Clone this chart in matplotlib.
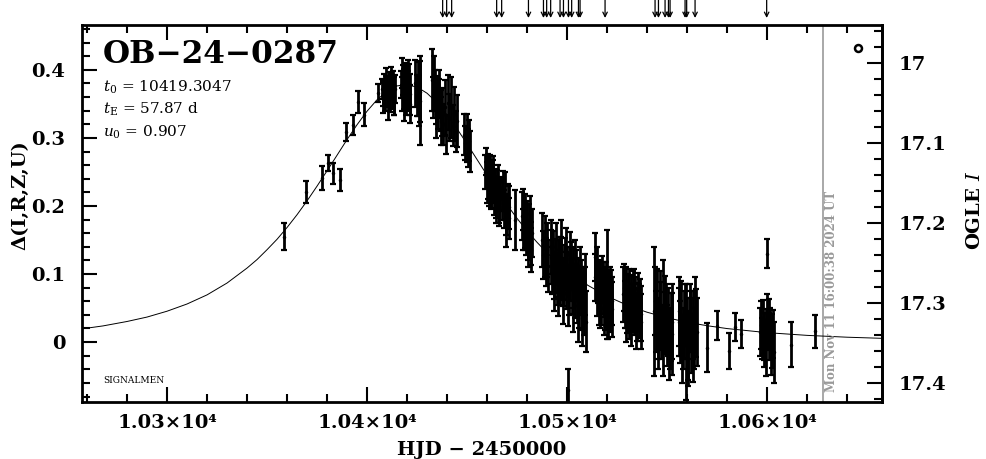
import numpy as np
import matplotlib.pyplot as plt
from matplotlib.ticker import FixedLocator, FixedFormatter, MultipleLocator

plt.rcParams['font.family'] = ['DejaVu Serif']
plt.rcParams['mathtext.fontset'] = 'dejavuserif'

# light curve data (HJD-2450000, delta mag, error)
hjd = [
    10358.5, 10369.5, 10377.4, 10380.4, 10383.2, 10386.4, 10389.5, 10393.2, 10395.5, 10398.5, 10405.4,
    10407.5, 10408.0, 10408.6, 10409.1, 10409.7, 10410.2, 10410.8, 10411.3, 10411.9, 10412.4, 10413.0, 10413.5, 10414.0,
    10417.2, 10417.7, 10418.2, 10418.7, 10419.2, 10419.7, 10420.2, 10420.7, 10421.2, 10421.7,
    10424.2, 10424.8, 10425.4, 10426.0, 10426.3, 10426.6,
    10432.6, 10433.2, 10433.8, 10434.4, 10435.0, 10435.6, 10436.2, 10436.8,
    10437.5, 10438.2, 10438.9, 10439.6,
    10440.5, 10441.2, 10442.0, 10442.8, 10443.6, 10444.4, 10445.0,
    10448.6, 10449.2, 10449.8, 10450.4, 10451.0, 10451.5,
    10459.2, 10459.8, 10460.4, 10461.0, 10461.6, 10462.2, 10462.8, 10463.4, 10464.0, 10464.6, 10465.2, 10465.8, 10466.4,
    10467.6, 10468.3, 10469.0, 10469.7, 10470.4, 10471.1, 10474.2,
    10477.6, 10478.2, 10478.8, 10479.4, 10480.0, 10480.6, 10481.2, 10481.8, 10482.4,
    10487.6, 10488.2, 10488.8, 10489.4, 10490.0, 10490.6,
    10491.8, 10492.4, 10493.0, 10493.6, 10494.2, 10494.8, 10495.4, 10496.0, 10496.6, 10497.2,
    10497.8, 10498.4, 10499.0, 10499.6, 10500.2, 10500.8, 10501.4, 10502.0, 10502.6, 10503.2,
    10503.8, 10504.4, 10505.0, 10505.6, 10506.2, 10506.8, 10507.4, 10508.0, 10508.6, 10509.2, 10500.3,
    10514.0, 10514.2, 10514.8, 10515.4, 10516.0, 10516.6, 10517.2, 10517.8, 10518.4, 10519.0, 10519.6, 10519.8,
    10520.2, 10520.8, 10521.4, 10522.0, 10522.6,
    10528.2, 10528.8, 10529.4, 10530.0, 10530.6, 10531.2, 10531.8, 10532.4, 10533.0, 10533.6, 10534.2, 10534.8,
    10535.4, 10536.0, 10536.6, 10537.2,
    10543.6, 10544.3, 10545.0, 10545.7, 10546.4, 10547.1, 10547.8, 10548.5, 10549.2, 10549.9, 10550.6, 10551.3,
    10552.0, 10552.6,
    10555.8, 10556.5, 10557.2, 10557.9, 10558.6, 10559.3, 10560.0, 10560.7, 10561.4, 10562.1, 10562.8, 10563.5,
    10564.2, 10564.8,
    10570.0, 10575.0, 10581.0, 10584.0, 10587.0,
    10596.6, 10597.3, 10598.0, 10598.7, 10599.4, 10600.1, 10600.8, 10601.5, 10602.2, 10602.9, 10603.6, 10600.0,
    10612.0, 10624.0,
]
delta = [
    0.155, 0.221, 0.241, 0.263, 0.248, 0.238, 0.309, 0.319, 0.353, 0.334, 0.366,
    0.372, 0.365, 0.378, 0.360, 0.374, 0.368, 0.381, 0.358, 0.376, 0.366, 0.383, 0.355, 0.372,
    0.378, 0.365, 0.385, 0.372, 0.390, 0.360, 0.381, 0.370, 0.388, 0.364,
    0.380, 0.362, 0.372, 0.355, 0.355, 0.368,
    0.385, 0.360, 0.372, 0.350, 0.366, 0.345, 0.358, 0.340,
    0.338, 0.320, 0.345, 0.305,
    0.352, 0.330, 0.345, 0.318, 0.335, 0.310, 0.325,
    0.305, 0.292, 0.300, 0.285, 0.296, 0.280,
    0.250, 0.235, 0.255, 0.228, 0.245, 0.220, 0.238, 0.215, 0.230, 0.212, 0.225, 0.205, 0.218,
    0.210, 0.195, 0.215, 0.188, 0.205, 0.182, 0.180,
    0.185, 0.165, 0.178, 0.158, 0.172, 0.150, 0.168, 0.145, 0.160,
    0.150, 0.128, 0.140, 0.118, 0.135, 0.112,
    0.125, 0.105, 0.118, 0.098, 0.112, 0.092, 0.108, 0.120, 0.095, 0.110,
    0.088, 0.102, 0.115, 0.090, 0.105, 0.085, 0.100, 0.112, 0.082, 0.095,
    0.075, 0.098, 0.070, 0.088, 0.065, 0.080, 0.060, 0.075, 0.055, 0.070, -0.070,
    0.125, 0.095, 0.078, 0.088, 0.070, 0.085, 0.065, 0.080, 0.072, 0.058, 0.075, 0.085,
    0.062, 0.070, 0.055, 0.068, 0.060,
    0.070, 0.055, 0.065, 0.048, 0.060, 0.042, 0.058, 0.050, 0.062, 0.045, 0.055, 0.040,
    0.052, 0.046, 0.058, 0.042,
    0.045, 0.030, 0.048, 0.020, 0.038, 0.015, 0.055, 0.028, 0.042, 0.010, 0.030, 0.005,
    0.022, 0.012,
    0.030, 0.015, 0.035, 0.005, 0.025, 0.000, 0.020, -0.005, 0.030, 0.010, 0.025, 0.005,
    0.040, 0.015,
    -0.008, 0.024, -0.013, 0.022, 0.012,
    0.015, 0.005, 0.022, -0.002, 0.018, 0.030, 0.008, 0.020, -0.008, 0.012, -0.015, 0.130,
    -0.004, 0.016,
]
err = [
    0.020, 0.016, 0.018, 0.012, 0.015, 0.016, 0.013, 0.014, 0.016, 0.017, 0.013,
    0.015, 0.018, 0.016, 0.020, 0.017, 0.022, 0.016, 0.020, 0.018, 0.024, 0.015, 0.022, 0.020,
    0.020, 0.025, 0.022, 0.030, 0.018, 0.026, 0.024, 0.028, 0.020, 0.030,
    0.035, 0.030, 0.040, 0.038, 0.065, 0.045,
    0.045, 0.030, 0.028, 0.030, 0.025, 0.032, 0.028, 0.030,
    0.035, 0.030, 0.040, 0.028,
    0.040, 0.035, 0.045, 0.030, 0.040, 0.030, 0.038,
    0.030, 0.025, 0.035, 0.028, 0.030, 0.030,
    0.025, 0.030, 0.022, 0.028, 0.030, 0.025, 0.030, 0.028, 0.025, 0.030, 0.028, 0.030, 0.025,
    0.030, 0.028, 0.035, 0.030, 0.028, 0.030, 0.044,
    0.035, 0.030, 0.040, 0.030, 0.035, 0.030, 0.035, 0.032, 0.035,
    0.040, 0.035, 0.045, 0.035, 0.040, 0.038,
    0.040, 0.035, 0.045, 0.035, 0.040, 0.038, 0.042, 0.035, 0.040, 0.045,
    0.035, 0.040, 0.038, 0.042, 0.035, 0.045, 0.040, 0.035, 0.040, 0.045,
    0.040, 0.038, 0.042, 0.035, 0.045, 0.040, 0.042, 0.035, 0.045, 0.040, 0.030,
    0.035, 0.035, 0.040, 0.030, 0.045, 0.035, 0.040, 0.038, 0.035, 0.040, 0.035, 0.080,
    0.042, 0.035, 0.040, 0.038, 0.035,
    0.040, 0.035, 0.045, 0.035, 0.040, 0.038, 0.040, 0.035, 0.042, 0.035, 0.040, 0.038,
    0.035, 0.040, 0.035, 0.040,
    0.095, 0.045, 0.060, 0.045, 0.050, 0.040, 0.065, 0.045, 0.055, 0.045, 0.050, 0.045,
    0.050, 0.060,
    0.050, 0.045, 0.055, 0.045, 0.050, 0.085, 0.045, 0.050, 0.045, 0.055, 0.050, 0.045,
    0.055, 0.050,
    0.036, 0.021, 0.026, 0.021, 0.021,
    0.035, 0.030, 0.040, 0.035, 0.030, 0.040, 0.035, 0.030, 0.040, 0.035, 0.045, 0.021,
    0.033, 0.024,
]

# extra points inside the dense clusters
hjd_dense = [
    10407.8, 10409.4, 10410.5, 10412.1, 10413.3,
    10417.5, 10418.5, 10419.5, 10420.5, 10421.5,
    10433.5, 10434.7, 10435.9, 10437.0,
    10459.5, 10460.7, 10461.9, 10463.1, 10464.3, 10465.5, 10466.1, 10468.0, 10469.4, 10470.8,
    10477.9, 10479.1, 10480.3, 10481.5, 10482.1,
    10492.1, 10493.3, 10494.5, 10495.7, 10496.9, 10498.1, 10499.3, 10500.5, 10501.7, 10502.9,
    10504.1, 10505.3, 10506.5, 10507.7, 10508.9, 10509.6,
    10515.1, 10516.3, 10517.5, 10518.7, 10519.3, 10520.5, 10521.7, 10522.3,
    10528.5, 10529.7, 10530.9, 10532.1, 10533.3, 10534.5, 10535.7, 10536.9,
    10544.0, 10545.3, 10546.7, 10548.1, 10549.5, 10550.9, 10552.3,
    10556.1, 10557.5, 10558.9, 10560.3, 10561.7, 10563.1, 10564.5,
    10597.0, 10598.3, 10599.7, 10601.2, 10602.5,
]
delta_dense = [
    0.358, 0.385, 0.352, 0.388, 0.362,
    0.395, 0.355, 0.375, 0.392, 0.350,
    0.380, 0.335, 0.370, 0.325,
    0.265, 0.240, 0.232, 0.248, 0.205, 0.235, 0.198, 0.222, 0.175, 0.198,
    0.195, 0.170, 0.140, 0.180, 0.135,
    0.140, 0.085, 0.130, 0.078, 0.135, 0.072, 0.128, 0.068, 0.122, 0.060,
    0.110, 0.045, 0.095, 0.035, 0.085, 0.030,
    0.100, 0.060, 0.092, 0.050, 0.082, 0.045, 0.075, 0.048,
    0.080, 0.040, 0.068, 0.035, 0.072, 0.030, 0.062, 0.030,
    0.060, 0.005, 0.050, 0.000, 0.035, -0.005, 0.030,
    0.045, -0.010, 0.040, -0.015, 0.035, -0.008, 0.028,
    0.025, 0.008, -0.010, 0.028, 0.002,
]
err_dense = [
    0.022, 0.018, 0.025, 0.016, 0.028,
    0.022, 0.030, 0.035, 0.022, 0.028,
    0.040, 0.035, 0.030, 0.035,
    0.020, 0.030, 0.035, 0.025, 0.030, 0.025, 0.028, 0.030, 0.035, 0.032,
    0.030, 0.035, 0.030, 0.035, 0.032,
    0.040, 0.040, 0.045, 0.040, 0.045, 0.045, 0.040, 0.045, 0.040, 0.045,
    0.040, 0.045, 0.045, 0.040, 0.045, 0.045,
    0.040, 0.040, 0.035, 0.040, 0.035, 0.040, 0.035, 0.040,
    0.035, 0.040, 0.040, 0.040, 0.035, 0.040, 0.040, 0.040,
    0.050, 0.045, 0.055, 0.050, 0.050, 0.050, 0.055,
    0.050, 0.050, 0.045, 0.050, 0.050, 0.050, 0.050,
    0.035, 0.035, 0.040, 0.035, 0.040,
]

# model curve
model_t = [10257, 10268, 10280, 10290, 10300, 10310, 10320, 10330, 10340, 10345, 10350, 10355,
           10360, 10365, 10370, 10375, 10380, 10385, 10390, 10395, 10400, 10405, 10410, 10415,
           10419.3, 10425, 10430, 10435, 10440, 10445, 10450, 10455, 10460, 10465, 10470, 10475,
           10480, 10485, 10490, 10495, 10500, 10510, 10520, 10530, 10540, 10550, 10560, 10570,
           10580, 10600, 10620, 10640, 10658]
model_d = [0.0193, 0.0238, 0.0303, 0.0368, 0.0454, 0.0560, 0.0694, 0.0868, 0.1088, 0.1213, 0.1358, 0.1511,
           0.1684, 0.1872, 0.2075, 0.2292, 0.2517, 0.2746, 0.2976, 0.3194, 0.3393, 0.3561, 0.3687, 0.3764,
           0.3784, 0.3748, 0.3657, 0.3518, 0.3339, 0.3134, 0.2913, 0.2683, 0.2453, 0.2229, 0.2017, 0.1818,
           0.1634, 0.1466, 0.1313, 0.1175, 0.1050, 0.0841, 0.0675, 0.0543, 0.0439, 0.0358, 0.0292, 0.0241,
           0.0199, 0.0139, 0.0099, 0.0072, 0.0055]

# alert arrows along the top
arrow_t = [10437.8, 10439.8, 10442.3, 10464.8, 10467.3, 10480.7, 10488.2, 10489.8, 10491.8, 10496.5,
           10498.2, 10500.7, 10502.3, 10505.7, 10506.5, 10519.0, 10544.0, 10545.7, 10549.0, 10550.7,
           10551.5, 10559.0, 10559.8, 10564.0, 10599.8]

xticks = [10300, 10400, 10500, 10600]
xtick_labels = ['1.03×10⁴', '1.04×10⁴', '1.05×10⁴', '1.06×10⁴']
yticks = [0, 0.1, 0.2, 0.3, 0.4]
ytick_labels = ['0', '0.1', '0.2', '0.3', '0.4']
mag_ticks = [17, 17.1, 17.2, 17.3, 17.4]
mag_labels = ['17', '17.1', '17.2', '17.3', '17.4']

now_t = 10628.0

fig = plt.figure(figsize=(9.86, 4.59), dpi=100)
ax = fig.add_axes([0.0832, 0.1242, 0.8114, 0.8214])

ax.plot(model_t, model_d, color='black', lw=0.7, zorder=2)
ax.errorbar(hjd + hjd_dense, delta + delta_dense, yerr=err + err_dense, fmt='.', color='black',
            ms=3, elinewidth=2.0, capsize=2, capthick=1.6, zorder=3)

ax.axvline(now_t, color='#999999', lw=1.2, zorder=1)
ax.text(now_t + 4, -0.074, 'Mon Nov 11 16:00:38 2024 UT', rotation=90, color='#999999',
        fontsize=8.5, fontweight='bold', ha='center', va='bottom')

ax.set_xlim(10257.5, 10657.5)
ax.set_ylim(-0.088, 0.466)

ax.xaxis.set_major_locator(FixedLocator(xticks))
ax.xaxis.set_major_formatter(FixedFormatter(xtick_labels))
ax.xaxis.set_minor_locator(MultipleLocator(20))
ax.yaxis.set_major_locator(FixedLocator(yticks))
ax.yaxis.set_major_formatter(FixedFormatter(ytick_labels))
ax.yaxis.set_minor_locator(MultipleLocator(0.02))

ax.tick_params(which='both', direction='in', top=True, right=False, width=1.5)
ax.tick_params(which='major', length=11, labelsize=14, pad=9)
ax.tick_params(which='minor', length=5.5)
ax.tick_params(axis='y', pad=12)
for lab in ax.get_xticklabels() + ax.get_yticklabels():
    lab.set_fontweight('bold')
for sp in ax.spines.values():
    sp.set_linewidth(2)

sec = ax.secondary_yaxis('right', functions=(lambda v: 17.3484 - 0.85 * v,
                                             lambda m: (17.3484 - m) / 0.85))
sec.yaxis.set_major_locator(FixedLocator(mag_ticks))
sec.yaxis.set_major_formatter(FixedFormatter(mag_labels))
sec.yaxis.set_minor_locator(MultipleLocator(0.02))
sec.tick_params(which='both', direction='in', width=1.5)
sec.tick_params(which='major', length=11, labelsize=14, pad=12)
sec.tick_params(which='minor', length=5.5)
for lab in sec.get_yticklabels():
    lab.set_fontweight('bold')
sec.spines['right'].set_linewidth(2)

for t in arrow_t:
    ax.annotate('', xy=(t, 1.0 + 7 / 377), xytext=(t, 1.0 + 26 / 377),
                xycoords=('data', 'axes fraction'),
                arrowprops=dict(arrowstyle='->', lw=0.9, color='black', mutation_scale=8,
                                shrinkA=0, shrinkB=0),
                annotation_clip=False)

ax.text(0.026, 0.962, 'OB−24−0287', transform=ax.transAxes, fontsize=22.5, fontweight='bold',
        ha='left', va='top')
ax.text(0.026, 0.836, r'$t_0$ = 10419.3047', transform=ax.transAxes, fontsize=11, va='center')
ax.text(0.026, 0.775, r'$t_\mathrm{E}$ = 57.87 d', transform=ax.transAxes, fontsize=11, va='center')
ax.text(0.026, 0.716, r'$u_0$ = 0.907', transform=ax.transAxes, fontsize=11, va='center')
ax.text(0.026, 0.058, 'SIGNALMEN', transform=ax.transAxes, fontsize=6.5, va='center')
ax.plot([0.97], [0.94], 'o', transform=ax.transAxes, ms=5, mfc='white', mec='black', mew=1.8)

fig.text(482 / 986, 1 - 450 / 459, 'HJD − 2450000', fontsize=14, fontweight='bold',
         ha='center', va='center')
fig.text(20 / 986, 1 - 195 / 459, 'Δ(I,R,Z,U)', fontsize=14, fontweight='bold', rotation=90,
         ha='center', va='center')
fig.text(975 / 986, 1 - 210 / 459, r'OGLE $\mathit{I}$', fontsize=14, fontweight='bold', rotation=90,
         ha='center', va='center')

fig.savefig('out.png', dpi=100)
